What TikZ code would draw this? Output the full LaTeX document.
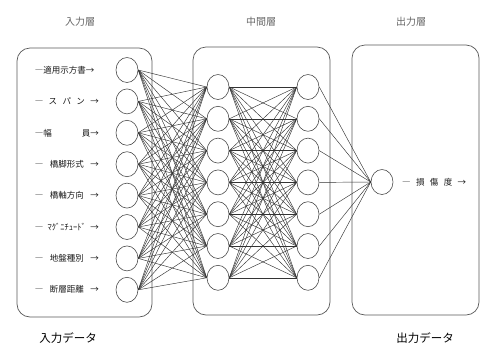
\documentclass[tikz,border=0pt]{standalone}
\usepackage{fontspec}
\newfontfamily\jp{Noto Sans CJK JP}
\usetikzlibrary{shapes.geometric}
\newcommand\lbl[1]{\hbox to 64pt{#1}}
\begin{document}
\begin{tikzpicture}[x=1pt,y=-1pt,
 neuron/.style={ellipse,draw=black!70,line width=0.6pt,minimum width=22pt,minimum height=25pt,inner sep=0pt},
 layerbox/.style={draw=black!65,line width=0.7pt,rounded corners=13pt},
 link/.style={draw=black!80,line width=0.45pt},
 ttl/.style={font=\jp\fontsize{10}{12}\selectfont,text=black!60,inner sep=0pt},
 inlabel/.style={font=\jp\fontsize{8.5}{10}\selectfont,text=black!90,inner sep=0pt},
 datalabel/.style={font=\jp\fontsize{11.5}{13}\selectfont,inner sep=0pt}]
\useasboundingbox (0,0) rectangle (484,346);
% layer boxes
\draw[layerbox] (17,48) rectangle (152,317);
\draw[layerbox] (193,47) rectangle (330,315);
\draw[layerbox] (352,45) rectangle (479,315);
% titles
\node[ttl] (t1) at (80,22) {入力層};
\node[ttl] (t2) at (261,22) {中間層};
\node[ttl] (t3) at (411,22) {出力層};
\node[datalabel] (d1) at (68,338) {入力データ};
\node[datalabel] (d2) at (425,338) {出力データ};
% input neurons
\foreach \i in {1,...,8}{
  \node[neuron] (i\i) at (127,{70+31.4*(\i-1)}) {};
}
% hidden neurons
\foreach \i in {1,...,7}{
  \node[neuron] (h\i) at (218,{87+31.8*(\i-1)}) {};
  \node[neuron] (g\i) at (308,{87+31.8*(\i-1)}) {};
}
\node[neuron] (o) at (382,182) {};
% links
\foreach \i in {1,...,8}{\foreach \j in {1,...,7}{\draw[link] (i\i.east) -- (h\j.west);}}
\foreach \i in {1,...,7}{\foreach \j in {1,...,7}{\draw[link] (h\i.east) -- (g\j.west);}}
\foreach \i in {1,...,7}{\draw[link] (g\i.east) -- (o.west);}
% input labels
\node[inlabel,anchor=east] (l1) at (99,70) {\lbl{―適用示方書→}};
\node[inlabel,anchor=east] (l2) at (99,101.4) {\lbl{―\hfil ス\hfil パ\hfil ン\hfil →}};
\node[inlabel,anchor=east] (l3) at (99,132.8) {\lbl{―\hfil 幅\hfill 員\hfil →}};
\node[inlabel,anchor=east] (l4) at (99,164.2) {\lbl{―\hfil 橋脚形式\hfil →}};
\node[inlabel,anchor=east] (l5) at (99,195.6) {\lbl{―\hfil 橋軸方向\hfil →}};
\node[inlabel,anchor=east] (l6) at (99,227) {\lbl{―\hfil ﾏｸﾞﾆﾁｭｰﾄﾞ\hfil →}};
\node[inlabel,anchor=east] (l7) at (99,258.4) {\lbl{―\hfil 地盤種別\hfil →}};
\node[inlabel,anchor=east] (l8) at (99,289.8) {\lbl{―\hfil 断層距離\hfil →}};
\node[inlabel,anchor=west] (lo) at (402,182) {\lbl{―\hfil 損\hfil 傷\hfil 度\hfil →}};
\end{tikzpicture}
\end{document}
